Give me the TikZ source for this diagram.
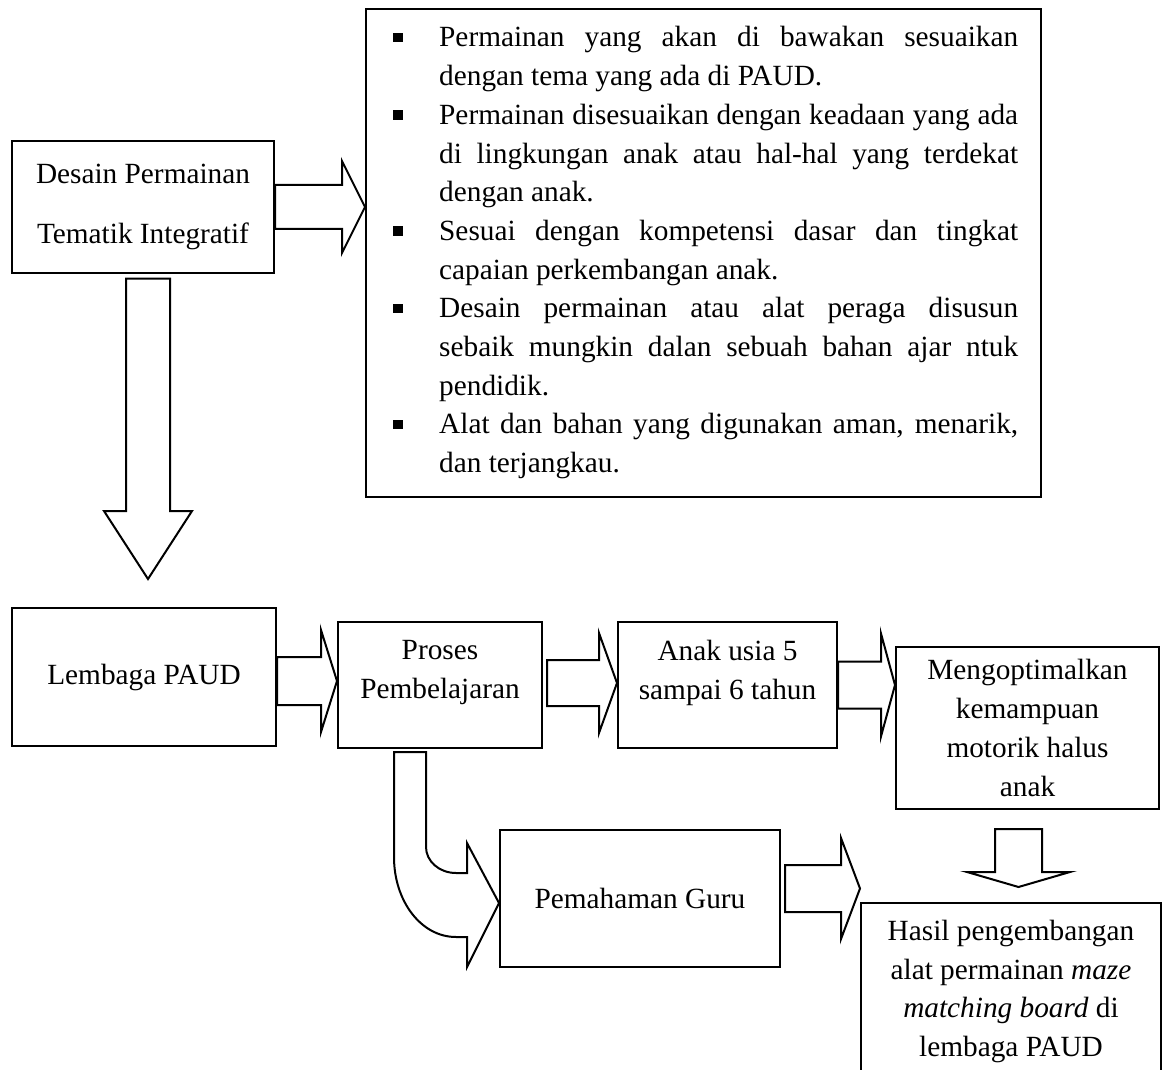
\documentclass[tikz,border=0pt]{standalone}
\usepackage{fontspec}
\setmainfont{Liberation Serif}
\usetikzlibrary{calc}
\newcommand{\sqitem}{\noindent\hangindent=46pt\hangafter=1\makebox[46pt][l]{\rule[4.5pt]{9.5pt}{9.5pt}}}
\tolerance=10000 \hyphenpenalty=10000 \exhyphenpenalty=10000

\begin{document}
\begin{tikzpicture}[x=1pt,y=-1pt,font=\fontsize{29.3}{38.7}\selectfont]

\tikzset{box/.style={draw,line width=2pt,align=center,inner sep=0pt},
blockarrow/.style={draw,fill=white,line width=2pt,line join=miter}}

\useasboundingbox (0,0) rectangle (1163,1070);

% Boxes
\node[box,minimum width=262pt,minimum height=131pt,font=\fontsize{29.3}{60}\selectfont] (desain) at (143,207) {Desain Permainan\\Tematik Integratif};
\node[box,minimum width=675pt,minimum height=488pt] (bullets) at (703.5,253) {};
\node[anchor=base west,inner sep=0pt,text width=625pt,align=justify] (bulletText) at (393,47) {\sqitem Permainan yang akan di bawakan sesuaikan\linebreak dengan tema yang ada di PAUD.
\par\sqitem Permainan disesuaikan dengan keadaan yang ada\linebreak di lingkungan anak atau hal-hal yang terdekat\linebreak dengan anak.
\par\sqitem Sesuai dengan kompetensi dasar dan tingkat\linebreak capaian perkembangan anak.
\par\sqitem Desain permainan atau alat peraga disusun\linebreak sebaik mungkin dalan sebuah bahan ajar ntuk\linebreak pendidik.
\par\sqitem Alat dan bahan yang digunakan aman, menarik,\linebreak dan terjangkau.\par};
\node[box,minimum width=264pt,minimum height=138pt] (lembaga) at (144,677) {Lembaga PAUD};
\node[box,minimum width=204pt,minimum height=126pt] (proses) at (440,685) {Proses\\Pembelajaran\\[-8pt]\mbox{}};
\node[box,minimum width=219pt,minimum height=126pt] (anak) at (727.5,685) {Anak usia 5\\sampai 6 tahun\\[-8pt]\mbox{}};
\node[box,minimum width=263pt,minimum height=162pt] (mengopt) at (1027.5,728) {Mengoptimalkan\\kemampuan\\motorik halus\\anak};
\node[box,minimum width=280pt,minimum height=137pt] (guru) at (640,898.5) {Pemahaman Guru};
\node[box,minimum width=300pt,minimum height=177pt] (hasil) at (1011,991.5) {Hasil pengembangan\\alat permainan \textit{maze}\\\textit{matching board} di\\lembaga PAUD};

% Arrow ends
\coordinate (dTail) at (desain.east);
\coordinate (dTip) at (bullets.west |- dTail);
\coordinate (lTail) at ($(lembaga.east)+(0,4)$);
\coordinate (lTip) at (proses.west |- lTail);
\coordinate (pTail) at ($(proses.east)+(4,-2)$);
\coordinate (pTip) at (anak.west |- pTail);
\coordinate (aTail) at (anak.east);
\coordinate (aTip) at (mengopt.west |- aTail);
\coordinate (gTail) at ($(guru.east)+(4,-10)$);
\coordinate (gTip) at (hasil.west |- gTail);
\coordinate (vTail) at ($(desain.south)+(5,5)$);
\coordinate (vTip) at ($(lembaga.north)+(4,-28)$);
\coordinate (mTail) at ($(mengopt.south)+(-9,19)$);
\coordinate (mTip) at ($(hasil.north)+(7.5,-15)$);

% Block arrows
\foreach \t/\h/\l/\s/\w in {dTail/dTip/23/22/46, lTail/lTip/16/24/51, pTail/pTip/18/23/50, aTail/aTip/14/23.5/51.5, gTail/gTip/19/23.5/50.5}
  \draw[blockarrow] ($(\t)+(0,-\s)$) -- ($(\h)+(-\l,-\s)$) -- ($(\h)+(-\l,-\w)$) -- (\h) -- ($(\h)+(-\l,\w)$) -- ($(\h)+(-\l,\s)$) -- ($(\t)+(0,\s)$) -- cycle;
\foreach \t/\h/\l/\s/\w in {vTail/vTip/68/22/44, mTail/mTip/15/23.5/51.5}
  \draw[blockarrow] ($(\t)+(-\s,0)$) -- ($(\h)+(-\s,-\l)$) -- ($(\h)+(-\w,-\l)$) -- (\h) -- ($(\h)+(\w,-\l)$) -- ($(\h)+(\s,-\l)$) -- ($(\t)+(\s,0)$) -- cycle;

% Bent arrow
\coordinate (cTip) at ($(guru.west)+(0,4.5)$);
\coordinate (cBase) at (proses.south |- cTip);
\draw[blockarrow] ($(proses.south)+(-46,3)$) -- ($(proses.south)+(-14,3)$) -- ($(cBase)+(-14,-56)$) .. controls +(0,14) and +(-17,0) .. ($(cTip)+(-43,-30)$) -- ($(cTip)+(-32,-30)$) -- ($(cTip)+(-32,-60)$) -- (cTip) -- ($(cTip)+(-32,64)$) -- ($(cTip)+(-32,34)$) -- ($(cTip)+(-43,34)$) .. controls +(-35,0) and +(0,44) .. ($(cBase)+(-46,-46)$) -- cycle;

\end{tikzpicture}
\end{document}
